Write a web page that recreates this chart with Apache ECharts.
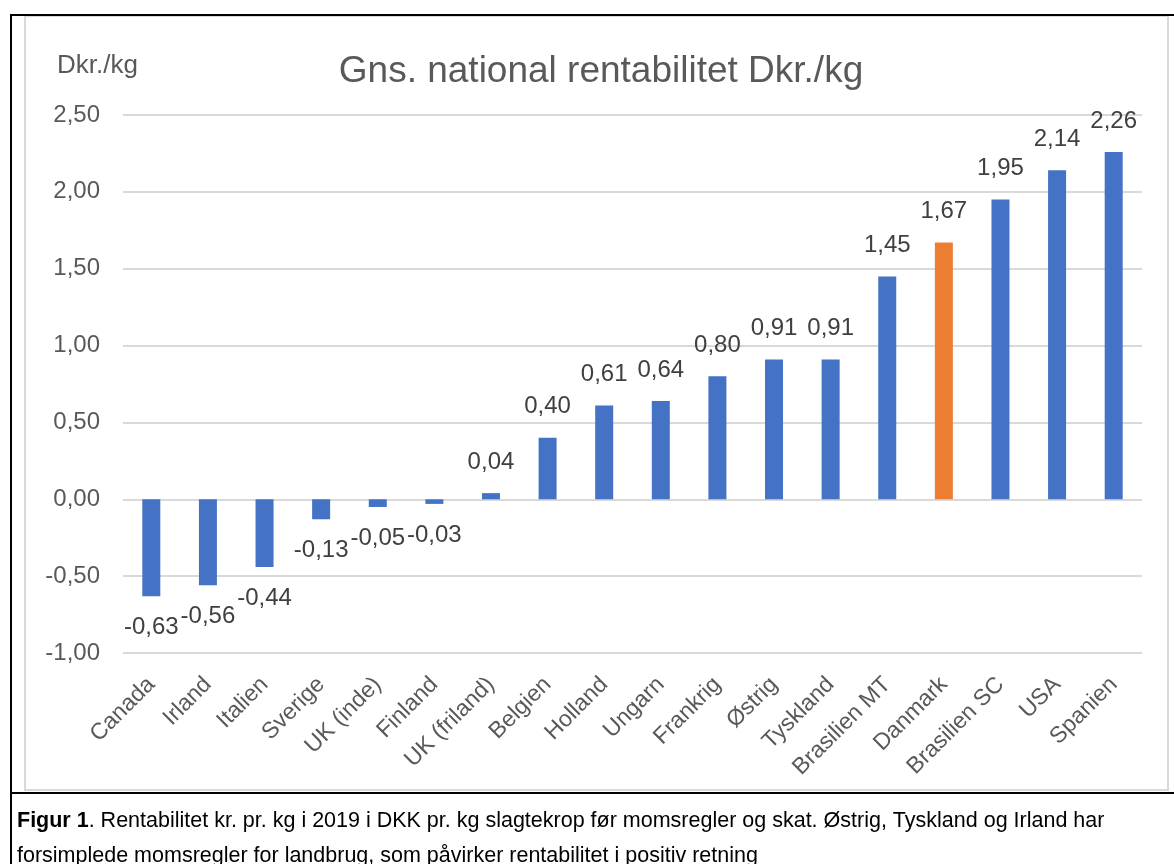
<!DOCTYPE html>
<html>
<head>
<meta charset="utf-8">
<script src="https://cdn.jsdelivr.net/npm/echarts@6/dist/echarts.min.js"></script>
<style>
html,body{margin:0;padding:0;background:#fff;}
#c{width:1174px;height:864px;}
</style>
</head>
<body>
<div id="c"></div>
<script>
const categories = ['Canada','Irland','Italien','Sverige','UK (inde)','Finland','UK (friland)','Belgien','Holland','Ungarn','Frankrig','Østrig','Tyskland','Brasilien MT','Danmark','Brasilien SC','USA','Spanien'];
const values = [-0.63,-0.56,-0.44,-0.13,-0.05,-0.03,0.04,0.40,0.61,0.64,0.80,0.91,0.91,1.45,1.67,1.95,2.14,2.26];
const highlighted = ['Danmark'];
const titleText = 'Gns. national rentabilitet Dkr./kg';
const unitText = 'Dkr./kg';
const captionBold = 'Figur 1';
const captionLine1 = '. Rentabilitet kr. pr. kg i 2019 i DKK pr. kg slagtekrop før momsregler og skat. Østrig, Tyskland og Irland har';
const captionLine2 = 'forsimplede momsregler for landbrug, som påvirker rentabilitet i positiv retning';

const FONT = '"Liberation Sans", Arial, sans-serif';
const BLUE = '#4472C4', ORANGE = '#ED7D31';
const fmt = v => v.toFixed(2).replace('.', ',');

const chart = echarts.init(document.getElementById('c'), null, {renderer:'canvas'});
chart.setOption({
  animation:false,
  backgroundColor:'#fff',
  grid:{left:123, right:32, top:115, bottom:211, containLabel:false},
  xAxis:{
    type:'category', data:categories,
    axisLine:{show:false, onZero:false}, axisTick:{show:false},
    axisLabel:{rotate:45, interval:0, margin:28, color:'#595959', fontSize:23, fontFamily:FONT}
  },
  yAxis:{
    type:'value', min:-1, max:2.5, interval:0.5,
    axisLine:{show:false}, axisTick:{show:false},
    axisLabel:{margin:23, color:'#595959', fontSize:24, fontFamily:FONT, formatter:v=>fmt(v)},
    splitLine:{lineStyle:{color:'#d9d9d9', width:2}}
  },
  series:[{
    type:'bar', barWidth:18,
    data: values.map((v,i)=>({
      value:v,
      itemStyle:{color: highlighted.includes(categories[i]) ? ORANGE : BLUE}
    })),
    label:{show:true, position:'outside', distance:19, color:'#404040', fontSize:24, fontFamily:FONT, formatter:p=>fmt(p.value)}
  }],
  graphic:[
    {type:'rect', shape:{x:25, y:16, width:1143, height:774}, style:{fill:'none', stroke:'#d9d9d9', lineWidth:2}, silent:true, z:-1},
    {type:'line', shape:{x1:10, y1:15, x2:1174, y2:15}, style:{stroke:'#000', lineWidth:2}},
    {type:'line', shape:{x1:11, y1:14, x2:11, y2:864}, style:{stroke:'#000', lineWidth:2}},
    {type:'line', shape:{x1:10, y1:793, x2:1174, y2:793}, style:{stroke:'#000', lineWidth:2}},
    {type:'text', x:601, y:72, style:{text:titleText, font:'37px '+FONT, fill:'#595959', textAlign:'center', textVerticalAlign:'middle'}},
    {type:'text', x:57, y:66, style:{text:unitText, font:'26px '+FONT, fill:'#595959', textAlign:'left', textVerticalAlign:'middle'}},
    {type:'text', x:17, y:821, style:{
      text:'{b|'+captionBold+'}{n|'+captionLine1+'}', textVerticalAlign:'middle',
      rich:{b:{font:'bold 21.5px '+FONT, fill:'#000'}, n:{font:'21.5px '+FONT, fill:'#000'}}
    }},
    {type:'text', x:17, y:856, style:{text:captionLine2, font:'21.5px '+FONT, fill:'#000', textVerticalAlign:'middle'}}
  ]
});
</script>
</body>
</html>
